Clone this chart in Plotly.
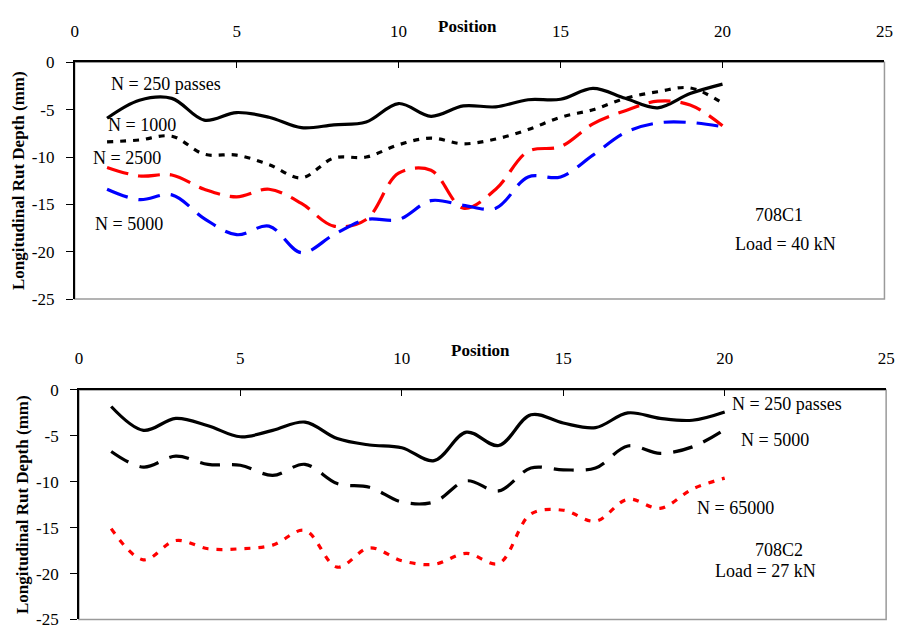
import plotly.graph_objects as go

# ---- data -------------------------------------------------------------
positions = list(range(1, 21))

# Section 708C1, load 40 kN
c1_n250 = [-5.9, -4.0, -3.8, -6.1, -5.3, -5.8, -6.9, -6.6, -6.3, -4.35,
           -5.7, -4.6, -4.7, -3.95, -3.9, -2.75, -3.8, -4.8, -3.3, -2.3]
c1_n1000 = [-8.4, -8.2, -7.8, -9.7, -9.8, -10.8, -12.2, -10.1, -10.0, -8.7,
            -8.0, -8.6, -8.1, -7.1, -5.8, -5.0, -3.8, -3.1, -2.7, -4.3]
c1_n2500 = [-11.1, -12.0, -11.9, -13.4, -14.2, -13.4, -14.9, -17.3, -16.6, -11.7,
            -11.4, -15.4, -13.4, -9.4, -8.9, -6.5, -5.1, -4.1, -4.5, -6.7]
c1_n5000 = [-13.4, -14.5, -14.0, -16.5, -18.2, -17.3, -20.1, -18.2, -16.6, -16.6,
            -14.6, -15.1, -15.4, -12.1, -12.1, -9.8, -7.4, -6.4, -6.35, -6.8]

# Section 708C2, load 27 kN
c2_n250 = [-1.8, -4.4, -3.1, -3.9, -5.1, -4.4, -3.5, -5.3, -6.0, -6.3,
           -7.7, -4.6, -6.05, -2.7, -3.6, -4.1, -2.5, -3.1, -3.3, -2.4]
c2_n5000 = [-6.7, -8.4, -7.2, -8.1, -8.2, -9.3, -8.1, -10.2, -10.6, -12.2,
            -12.2, -9.9, -11.0, -8.5, -8.7, -8.5, -6.1, -6.9, -6.2, -4.3]
c2_n65000 = [-15.1, -18.5, -16.4, -17.3, -17.3, -16.9, -15.3, -19.3, -17.2, -18.6,
             -19.0, -17.8, -18.9, -13.5, -13.1, -14.3, -11.9, -12.9, -10.8, -9.6]

x_ticks = [0, 5, 10, 15, 20, 25]
y_ticks = [0, -5, -10, -15, -20, -25]
y_tick_text = ["0", "-5", "-10", "-15", "-20", "-25"]

# ---- styling ----------------------------------------------------------
SERIF = "Liberation Serif, Times New Roman, serif"
W, H = 904, 635


def px_x(p):
    return p / W


def px_y(p):
    return 1 - p / H


fig = go.Figure()


def add_line(y, color, dash, xa, ya):
    fig.add_trace(go.Scatter(
        x=positions, y=y, mode="lines", xaxis=xa, yaxis=ya,
        line=dict(color=color, width=3.2, dash=dash, shape="spline", smoothing=1.0),
        showlegend=False, hoverinfo="skip"))


add_line(c1_n250, "black", "solid", "x", "y")
add_line(c1_n1000, "black", "6px,7px", "x", "y")
add_line(c1_n2500, "#ff0000", "22px,10px", "x", "y")
add_line(c1_n5000, "#0000ff", "22px,11px", "x", "y")

add_line(c2_n250, "black", "solid", "x2", "y2")
add_line(c2_n5000, "black", "20px,12px", "x2", "y2")
add_line(c2_n65000, "#ff0000", "6px,8px", "x2", "y2")

tickfont = dict(family=SERIF, size=17, color="black")
titlefont = dict(family=SERIF, size=17, color="black")

xcommon = dict(range=[0, 25], tickvals=x_ticks, side="top", ticks="inside",
               ticklen=6, tickcolor="black", showline=True, linecolor="black",
               linewidth=1.5, showgrid=False, zeroline=False, tickfont=tickfont,
               ticklabelstandoff=17)
ycommon = dict(range=[-25, 0], tickvals=y_ticks, ticktext=y_tick_text,
               ticks="outside", ticklen=7, tickcolor="black", showline=True,
               linecolor="black", linewidth=1.5, showgrid=False, zeroline=False,
               tickfont=tickfont, ticklabelstandoff=8,
               title=dict(text="<b>Longitudinal Rut Depth (mm)</b>", font=titlefont,
                          standoff=3))

fig.update_layout(
    width=W, height=H,
    margin=dict(l=0, r=0, t=0, b=0),
    paper_bgcolor="white", plot_bgcolor="white",
    xaxis=dict(domain=[px_x(71.7), px_x(893.3)], anchor="y", **xcommon),
    yaxis=dict(domain=[px_y(299), px_y(55)], anchor="x", **ycommon),
    xaxis2=dict(domain=[px_x(76), px_x(895)], anchor="y2", **xcommon),
    yaxis2=dict(domain=[px_y(629.3), px_y(392.7)], anchor="x2", **ycommon),
)

# grey frame on the right and bottom edges of each plot area
for xr, yr in (("x", "y"), ("x2", "y2")):
    fig.add_shape(type="rect", xref=f"{xr} domain", yref=f"{yr} domain",
                  x0=0, x1=1, y0=0, y1=1, layer="below",
                  line=dict(color="#9a9a9a", width=1.5))

# "Position" axis titles above each top axis
for cx, cy in ((470, 18), (483, 352)):
    fig.add_annotation(text="<b>Position</b>", x=px_x(cx), y=px_y(cy),
                       xref="paper", yref="paper", showarrow=False,
                       font=titlefont, xanchor="center", yanchor="middle")

annfont = dict(family=SERIF, size=18, color="black")


def note(text, x, y, xa, ya):
    fig.add_annotation(text=text, x=x, y=y, xref=xa, yref=ya, showarrow=False,
                       font=annfont, xanchor="center", yanchor="middle")


note("N = 250 passes", 2.81, -2.25, "x", "y")
note("N = 1000", 2.08, -6.66, "x", "y")
note("N = 2500", 1.61, -10.1, "x", "y")
note("N = 5000", 1.67, -17.1, "x", "y")
note("708C1", 21.73, -16.1, "x", "y")
note("Load = 40 kN", 21.93, -19.2, "x", "y")

note("N = 250 passes", 21.92, -1.56, "x2", "y2")
note("N = 5000", 21.57, -5.48, "x2", "y2")
note("N = 65000", 20.34, -12.9, "x2", "y2")
note("708C2", 21.67, -17.4, "x2", "y2")
note("Load = 27 kN", 21.25, -19.75, "x2", "y2")

fig.write_html("out.html")
